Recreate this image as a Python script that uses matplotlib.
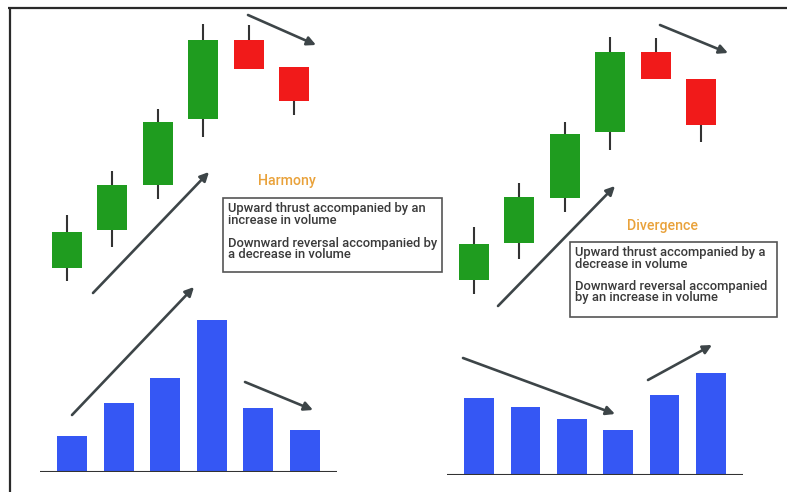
import matplotlib
matplotlib.use('Agg')
import matplotlib.pyplot as plt
from matplotlib.patches import Rectangle

W, H = 787, 492

# candles: open, high, low, close (arbitrary price units)
left_open = [3.2, 7.0, 11.5, 18.1, 26.0, 23.3]
left_high = [8.5, 12.9, 19.1, 27.6, 27.5, 23.3]
left_low = [1.9, 5.3, 10.1, 16.3, 23.1, 18.5]
left_close = [6.8, 11.5, 17.8, 26.0, 23.1, 19.9]

right_open = [3.2, 6.9, 11.4, 18.0, 26.0, 23.3]
right_high = [8.5, 12.9, 19.0, 27.5, 27.4, 23.3]
right_low = [1.8, 5.3, 10.0, 16.2, 23.3, 17.0]
right_close = [6.8, 11.5, 17.8, 26.0, 23.3, 18.7]

# volume bars
left_volume = [3.6, 6.9, 9.4, 15.2, 6.4, 4.2]
right_volume = [7.7, 6.8, 5.6, 4.5, 8.0, 10.2]

titles = ['Harmony', 'Divergence']
notes_left = ['Upward thrust accompanied by an\nincrease in volume',
              'Downward reversal accompanied by\na decrease in volume']
notes_right = ['Upward thrust accompanied by a\ndecrease in volume',
               'Downward reversal accompanied\nby an increase in volume']

GREEN = '#1f9c1f'
RED = '#f11a1a'
BLUE = '#3557f4'
DARK = '#333333'
ARROW = '#3d4548'
ORANGE = '#e9a23b'

fig = plt.figure(figsize=(W / 100, H / 100), dpi=100)


def px_axes(x0, y0, x1, y1):
    ax = fig.add_axes([x0 / W, 1 - y1 / H, (x1 - x0) / W, (y1 - y0) / H])
    ax.axis('off')
    return ax


# overlay in pixel coordinates: frame, arrows, notes
ax0 = fig.add_axes([0, 0, 1, 1])
ax0.set_xlim(0, W)
ax0.set_ylim(H, 0)
ax0.axis('off')
ax0.plot([8, W], [8, 8], color='#2a2a2a', lw=1.6, solid_capstyle='butt')
ax0.plot([9.5, 9.5], [7, H], color='#2a2a2a', lw=1.6, solid_capstyle='butt')

arrows = [((248, 15), (316, 45)), ((93, 293), (209, 172)),
          ((72, 415), (194, 287)), ((245, 382), (313, 410)),
          ((660, 25), (728, 53)), ((498, 306), (615, 186)),
          ((463, 358), (615, 414)), ((648, 380), (712, 345))]
for start, end in arrows:
    ax0.annotate('', xy=end, xytext=start,
                 arrowprops=dict(arrowstyle='-|>', color=ARROW, lw=1.9,
                                 mutation_scale=13, shrinkA=0, shrinkB=0))

ax0.text(287, 181, titles[0], color=ORANGE, fontsize=10.2, ha='center',
         va='center', family='Roboto', weight='medium')
ax0.text(662, 226, titles[1], color=ORANGE, fontsize=10.2, ha='center',
         va='center', family='Roboto', weight='medium')

ax0.add_patch(Rectangle((223, 198), 219, 74, facecolor='white',
                        edgecolor='#555555', lw=1.2))
ax0.add_patch(Rectangle((570, 242), 207, 75, facecolor='white',
                        edgecolor='#555555', lw=1.2))
for x, y, s in [(228, 202, notes_left[0]), (228, 237, notes_left[1]),
                (575, 246, notes_right[0]), (575, 280, notes_right[1])]:
    ax0.text(x, y, s, color='#3a3a3a', fontsize=9.4, va='top',
             linespacing=0.85, family='Roboto', weight='medium')


def candles(ax, o, h, l, c):
    for i in range(len(o)):
        col = GREEN if c[i] >= o[i] else RED
        ax.vlines(i, l[i], h[i], color=DARK, lw=1.5, zorder=1)
        ax.bar(i, abs(c[i] - o[i]), bottom=min(o[i], c[i]), width=0.66,
               color=col, zorder=2)
    ax.set_xlim(-0.5, 5.5)
    ax.set_ylim(0, 30)


def volume(ax, v):
    ax.bar(range(len(v)), v, width=0.64, color=BLUE, zorder=2)
    ax.axhline(0, color=DARK, lw=1.5, zorder=3)
    ax.set_xlim(-0.69, 5.69)
    ax.set_ylim(0, 17.2)


candles(px_axes(44.3, 0, 316.7, 300), left_open, left_high, left_low, left_close)
candles(px_axes(451.3, 12, 723.7, 312), right_open, right_high, right_low, right_close)
volume(px_axes(40, 300, 337, 472), left_volume)
volume(px_axes(447, 303, 743, 475), right_volume)

fig.savefig('out.png', dpi=100)
